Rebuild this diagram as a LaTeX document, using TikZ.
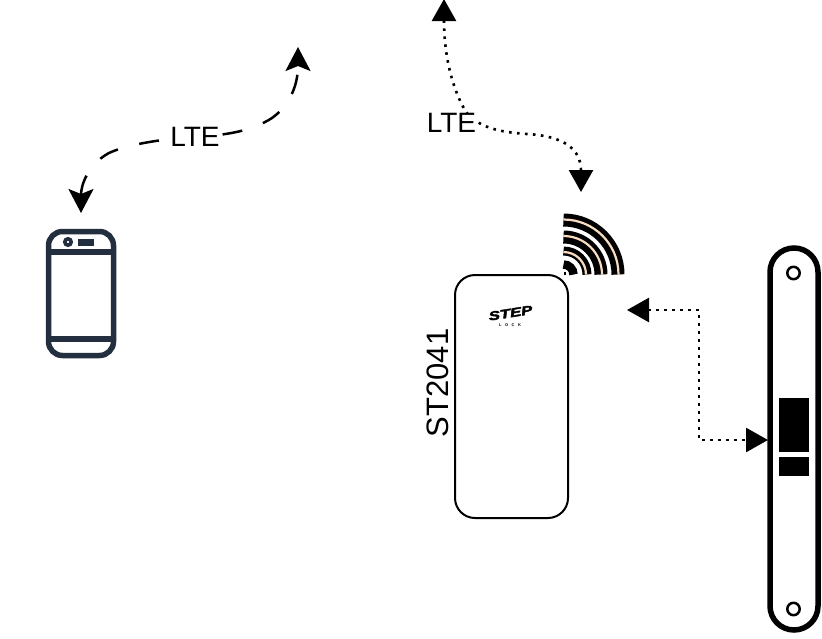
\documentclass[tikz,border=0pt]{standalone}
\usepackage{fontspec}
\setmainfont{Liberation Sans}
\usetikzlibrary{arrows.meta}
\definecolor{phonecol}{HTML}{232F3E}
\definecolor{peach}{HTML}{F8DCC0}
\tikzset{
  x=1pt,y=-1pt,
  link/.style={line width=2.5pt,line cap=butt},
  dashlink/.style={link,dash pattern=on 20pt off 22pt,{Stealth[length=24pt,width=25pt,inset=5pt]}-{Stealth[length=24pt,width=25pt,inset=5pt]}},
  dotlink/.style={line width=2.6pt,dash pattern=on 2.6pt off 5.4pt,{Triangle[length=22pt,width=24pt]}-{Triangle[length=22pt,width=24pt]}},
  lbl/.style={fill=white,inner sep=0.5pt,font=\fontsize{28}{30}\selectfont},
  phoneline/.style={draw=phonecol,line width=5.5pt},
  lockline/.style={draw=black,line width=5.5pt},
  lockhole/.style={draw=black,line width=2.5pt},
  waveglow/.style={line width=2.2pt,draw=peach},
}
\begin{document}
\begin{tikzpicture}
\useasboundingbox (0,0) rectangle (822,638);
\clip (0,0) rectangle (822,638);
% connector end points
\coordinate (phonetip) at (81,213);
\coordinate (cloudA) at (298,47);
\coordinate (cloudB) at (444,-1);
\coordinate (wifitip) at (581,192);
\coordinate (hubtip) at (627,310);
\coordinate (locktip) at (768,440);
\coordinate (bendA) at (699,310);
\coordinate (bendB) at (699,440);
\coordinate (mid1) at (195,137);
% phone
\draw[phoneline,rounded corners=14pt] (48.5,231.5) rectangle (113.5,355.5);
\draw[phoneline] (48.5,252) -- (113.5,252);
\draw[phoneline] (48.5,339) -- (113.5,339);
\draw[draw=phonecol,line width=3.6pt] (68,242) circle[radius=3.2pt];
\fill[phonecol] (78,239) rectangle (94,246);
% hub
\node[draw=black,line width=2pt,rounded corners=20pt,minimum width=113pt,minimum height=243pt,inner sep=0pt] (hub) at (511.5,396.5) {};
\node[rotate=90,inner sep=0pt,font=\fontsize{31}{33}\selectfont] (hubname) at (438,383) {ST2041};
\node[inner sep=0pt,rotate=9,xscale=1.35,font=\fontsize{12.5}{12.5}\selectfont\bfseries\itshape] (logo) at (510.5,313) {\addfontfeature{FakeBold=3}STEP};
\node[inner sep=0pt,font=\fontsize{4}{4}\selectfont\bfseries] (logosub) at (510,325) {L\hspace{3.5pt}O\hspace{3.5pt}C\hspace{3.5pt}K};
% wifi
\foreach \r/\w/\g in {54.5/13/55,37.5/13/38.5,23.5/9/22.5}{
  \draw[line width=\w pt,draw=black] (563.5,274.5-\r) arc[start angle=90,end angle=0,radius=\r pt];
  \draw[waveglow] (563.5,274.5-\g) arc[start angle=90,end angle=0,radius=\g pt];
}
\draw[line width=8.5pt,draw=black] (563.5,264.5) arc[start angle=90,end angle=0,radius=10pt];
\fill[black] (563.5,274.5) rectangle (566,272);
% lock
\draw[lockline,rounded corners=24pt] (770,248) rectangle (818,630);
\draw[lockhole] (793.5,273) circle[radius=6.2pt];
\draw[lockhole] (793.5,609) circle[radius=6.2pt];
\fill[black] (779,398) rectangle (809,452);
\fill[black] (779,457) rectangle (809,476);
% links
\draw[dashlink] (phonetip) .. controls (81,185) and (88,165) .. (108,153.5) .. controls (125,145) and (160,139) .. (mid1) .. controls (225,135) and (250,132) .. (272,118) .. controls (286,108) and (298,90) .. (cloudA);
\node[lbl] (lte1) at (mid1) {LTE};
\draw[dotlink] (cloudB) .. controls (444,50) and (450,85) .. (466,112) .. controls (478,126) and (495,132) .. (527,134) .. controls (565,136) and (581,150) .. (wifitip);
\node[lbl] (lte2) at (451.5,123) {LTE};
\draw[dotlink] (hubtip) -- (bendA) -- (bendB) -- (locktip);
\end{tikzpicture}
\end{document}
